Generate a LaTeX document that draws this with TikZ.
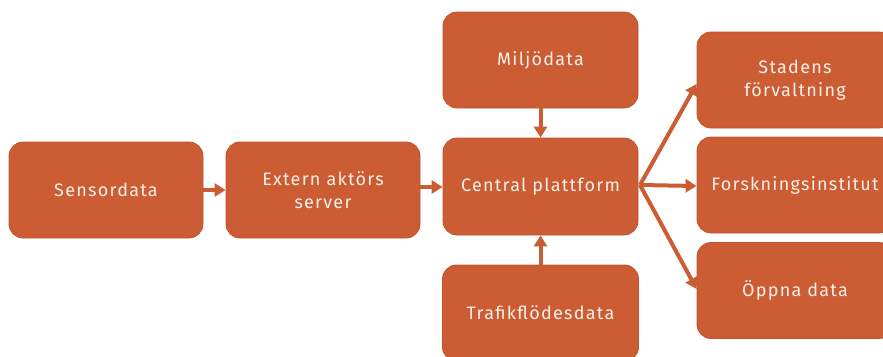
\documentclass[tikz,border=0pt]{standalone}
\usepackage{fontspec}
\setmainfont[LetterSpace=7]{Fira Sans}
\usetikzlibrary{arrows.meta}
\definecolor{boxfill}{RGB}{203,92,51}
\definecolor{boxline}{RGB}{190,84,46}
\definecolor{txt}{RGB}{250,240,232}
\tikzset{
  box/.style={draw=boxline, line width=0.8pt, fill=boxfill, rounded corners=14pt, text=txt,
    font=\fontsize{18}{23.5}\selectfont, align=center},
  conn/.style={draw=boxfill, line width=4pt, -{Triangle[length=11pt,width=13pt]}},
}
\begin{document}
\begin{tikzpicture}[x=1pt,y=-1pt]
\useasboundingbox (0,0) rectangle (883,356);
\clip (0,0) rectangle (883,356);
\path[fill=white] (0,0) rectangle (883,356);
\node[box, minimum width=194pt, minimum height=96pt] (sens) at (106,190) {Sensordata};
\node[box, minimum width=194pt, minimum height=96pt] (ext) at (323,190) {Extern aktörs\\server};
\node[box, minimum width=195pt, minimum height=96pt] (milj) at (540.5,60) {Miljödata};
\node[box, minimum width=195pt, minimum height=97pt] (cent) at (540.5,186.5) {Central plattform};
\node[box, minimum width=196pt, minimum height=96pt] (traf) at (540.5,313) {Trafikflödesdata};
\node[box, minimum width=196pt, minimum height=96pt] (stad) at (795,80) {Stadens\\förvaltning};
\node[box, minimum width=196pt, minimum height=96pt] (forsk) at (795,185) {Forskningsinstitut};
\node[box, minimum width=196pt, minimum height=96pt] (oppna) at (795,290.5) {Öppna data};
\coordinate (c1) at (640,185);
\draw[conn] (sens.east) -- (ext.west);
\draw[conn] (ext.east |- 0,187) -- (cent.west |- 0,187);
\draw[conn] (milj.south) -- (cent.north);
\draw[conn] (traf.north) -- (cent.south);
\draw[conn] (c1) -- (stad.west |- 0,84);
\draw[conn] (c1) -- (forsk.west |- 0,186);
\draw[conn] (c1) -- (oppna.west |- 0,289);
\end{tikzpicture}
\end{document}
